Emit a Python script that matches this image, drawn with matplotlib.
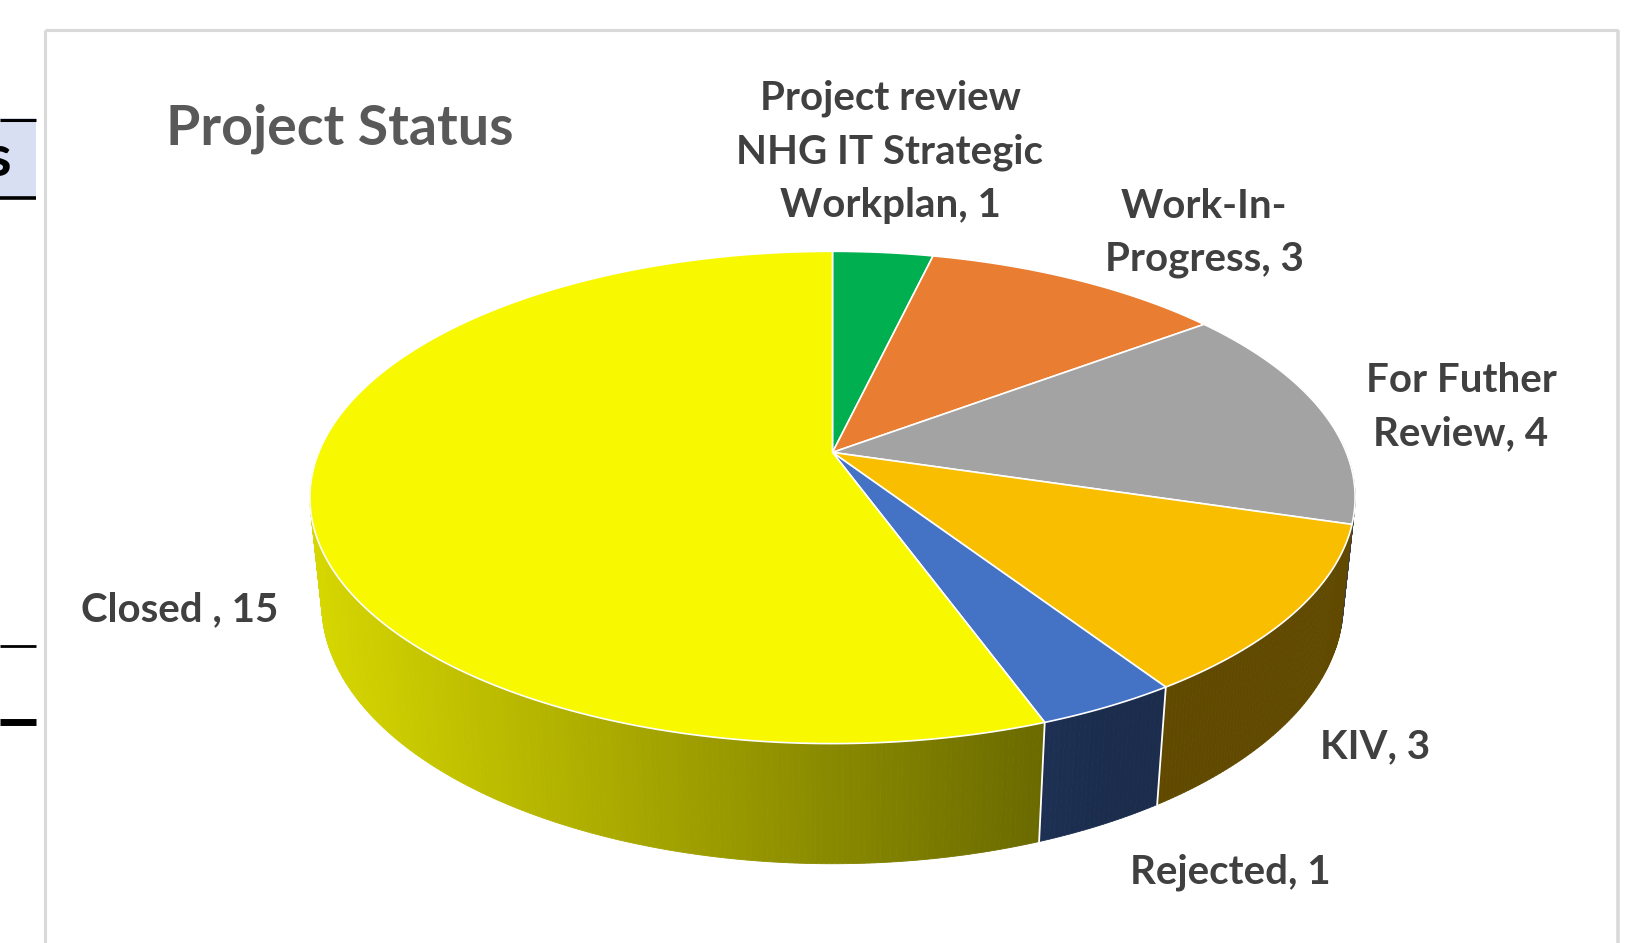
import numpy as np
import matplotlib.pyplot as plt
from matplotlib.patches import Polygon, Rectangle

# data
labels = ['Project review\nNHG IT Strategic\nWorkplan, 1', 'Work-In-\nProgress, 3',
          'For Futher\nReview, 4', 'KIV, 3', 'Rejected, 1', 'Closed , 15']
values = [1, 3, 4, 3, 1, 15]
colors = ['#00AF50', '#E97D31', '#A3A3A3', '#F9BE00', '#4472C4', '#F8F800']
# label centres in figure pixels (from top-left)
label_pos = [(890, 152), (1204, 233), (1461, 407), (1375, 747), (1230, 872), (180, 610)]
title = 'Project Status'

W, H = 1642, 943
fig = plt.figure(figsize=(W / 100, H / 100), dpi=100)
plt.rcParams['font.family'] = ['Lato', 'DejaVu Sans']

bg = fig.add_axes([0, 0, 1, 1])
bg.set_xlim(0, W)
bg.set_ylim(H, 0)
bg.axis('off')

# bits of the spreadsheet peeking in at the left
bg.add_patch(Rectangle((0, 118), 36, 81, facecolor='#D9DFF2', edgecolor='none'))
bg.plot([0, 36], [119.5, 119.5], color='black', lw=2.2, solid_capstyle='butt')
bg.plot([0, 36], [197.5, 197.5], color='black', lw=2.6, solid_capstyle='butt')
bg.plot([0, 36], [646, 646], color='black', lw=2.0, solid_capstyle='butt')
bg.plot([0, 36], [722, 722], color='black', lw=5.0, solid_capstyle='butt')
bg.text(11, 160, 's', ha='right', va='center', fontsize=42, fontweight='bold', color='black')

# chart frame
fc = '#D9D9D9'
bg.plot([45, 45], [30, H], color=fc, lw=2.2, solid_capstyle='butt')
bg.plot([45, 1618], [30, 30], color=fc, lw=2.2, solid_capstyle='butt')
bg.plot([1618, 1618], [30, H], color=fc, lw=2.6, solid_capstyle='butt')

bg.text(166, 129, title, ha='left', va='center', fontsize=40, fontweight='bold', color='#595959')
for lab, (x, y) in zip(labels, label_pos):
    bg.text(x, y, lab, ha='center', va='center', multialignment='center',
            fontsize=29, fontweight='bold', color='#404040', linespacing=1.55)

# 3d pie with perspective
L = 4.84
sphi, cphi = 0.463, 0.886
depth = 0.236
scale = 513.8  # px per unit
cx, cy = 832.5, 452.4

def proj(t, r=1.0, z=0.0):
    u = r * np.sin(t)
    v = r * np.cos(t)
    d = L + v * cphi - z * sphi
    return L * u / d, L * (v * sphi + z * cphi) / d

x0, x1, y0, y1 = -1.2, 1.2, -0.95, 0.6
ax = fig.add_axes([(cx + x0 * scale) / W, (H - cy + y0 * scale) / H,
                   (x1 - x0) * scale / W, (y1 - y0) * scale / H])
ax.set_xlim(x0, x1)
ax.set_ylim(y0, y1)
ax.axis('off')

def shade(c, xm):
    f = 0.43 + 0.307 * (0.40 - xm)
    f = max(0.39, min(0.88, f))
    rgb = np.array(plt.matplotlib.colors.to_rgb(c))
    return tuple(rgb * f)

bounds = np.concatenate([[0], np.cumsum(values)]) / sum(values) * 2 * np.pi

# sides
for i, c in enumerate(colors):
    ts = np.linspace(bounds[i], bounds[i + 1], max(2, int(np.degrees(bounds[i + 1] - bounds[i]) * 2)))
    for ta, tb in zip(ts[:-1], ts[1:]):
        tm = (ta + tb) / 2
        if np.cos(tm) > 0.05:
            continue
        pa, pb = proj(ta), proj(tb)
        qa, qb = proj(ta, z=-depth), proj(tb, z=-depth)
        col = shade(c, proj(tm)[0])
        ax.add_patch(Polygon([pa, pb, qb, qa], closed=True, facecolor=col, edgecolor=col,
                             lw=0.6, zorder=1))
for t in bounds:
    if np.cos(t) < -0.3:
        p, q = proj(t), proj(t, z=-depth)
        ax.plot([p[0], q[0]], [p[1], q[1]], color='white', lw=1.3, zorder=2)

# top face
for i, c in enumerate(colors):
    ts = np.linspace(bounds[i], bounds[i + 1], 200)
    xs, ys = proj(ts)
    pts = [(0, 0)] + list(zip(xs, ys))
    ax.add_patch(Polygon(pts, closed=True, facecolor=c, edgecolor='white', lw=1.2,
                         joinstyle='round', zorder=3))

fig.savefig('out.png', dpi=100, facecolor='white')
